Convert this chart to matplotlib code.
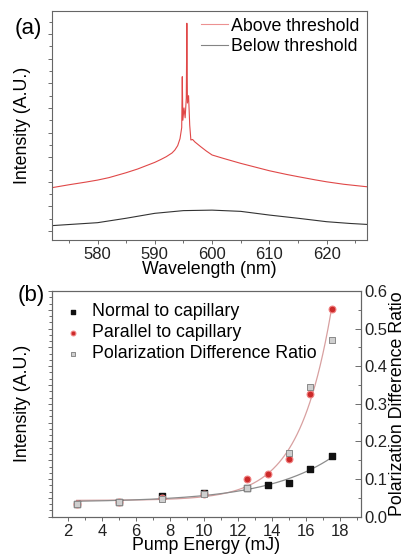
import numpy as np
import matplotlib
matplotlib.use("Agg")
from matplotlib import pyplot as plt
from matplotlib.ticker import MultipleLocator

plt.rcParams['font.family'] = ['Liberation Sans', 'DejaVu Sans']
plt.rcParams['font.size'] = 12.8

# (a) spectra (wavelength in nm, intensity in arbitrary units)
wl_above = [572, 575, 578, 580, 582, 585, 587, 589, 590, 591, 592, 593, 593.5, 594,
            594.4, 594.7, 594.8, 594.9, 595.1, 595.3, 595.5, 595.6, 595.7, 595.9,
            596.1, 596.3, 596.6, 597, 598, 599, 600, 602, 605, 608, 610, 613, 615,
            618, 620, 623, 627]
int_above = [1.76, 1.88, 1.99, 2.07, 2.17, 2.37, 2.52, 2.70, 2.79, 2.90, 3.02, 3.17, 3.29, 3.47,
             3.75, 4.20, 6.27, 4.50, 5.00, 4.60, 5.40, 8.44, 5.20, 5.50,
             4.30, 3.70, 3.72, 3.62, 3.43, 3.25, 3.09, 2.95, 2.75, 2.57, 2.45, 2.30, 2.21,
             2.08, 2.00, 1.90, 1.80]
wl_below = [572, 576, 580, 585, 590, 595, 600, 605, 610, 615, 620, 624, 627]
int_below = [0.22, 0.28, 0.34, 0.52, 0.72, 0.83, 0.85, 0.80, 0.65, 0.52, 0.38, 0.31, 0.27]

# (b) pump energy series
pump = np.array([2.5, 5, 7.5, 10, 12.5, 13.75, 15, 16.25, 17.5])
normal = np.array([0.035, 0.040, 0.054, 0.063, 0.077, 0.083, 0.090, 0.127, 0.160])
parallel = np.array([0.033, 0.038, 0.049, 0.061, 0.100, 0.113, 0.154, 0.327, 0.552])
ratio_pump = np.array([2.5, 5, 7.5, 10, 12.5, 15, 16.25, 17.5])
ratio = np.array([0.033, 0.038, 0.048, 0.060, 0.076, 0.170, 0.346, 0.470])


def exp_fit(x, y):
    # y = y0 + A*exp(x/t), t by grid search, y0 and A by least squares
    best = None
    for t in np.linspace(0.5, 15, 600):
        m = np.column_stack([np.ones_like(x), np.exp(x / t)])
        coef = np.linalg.lstsq(m, y, rcond=None)[0]
        r = np.sum((m @ coef - y) ** 2)
        if best is None or r < best[0]:
            best = (r, t, coef)
    _, t, coef = best
    return lambda xx: coef[0] + coef[1] * np.exp(xx / t)


fig = plt.figure(figsize=(4.07, 5.57), dpi=100)

# ---- panel (a)
ax1 = fig.add_axes([0.127, 0.569, 0.774, 0.412])
ax1.plot(wl_above, int_above, color='#e04848', lw=0.8, label='Above threshold')
ax1.plot(wl_below, int_below, color='#333333', lw=0.8, label='Below threshold')
ax1.set_xlim(572, 627)
ax1.set_ylim(-0.366, 8.955)
ax1.xaxis.set_major_locator(MultipleLocator(10))
ax1.xaxis.set_minor_locator(MultipleLocator(5))
ax1.yaxis.set_major_locator(MultipleLocator(1))
ax1.yaxis.set_minor_locator(MultipleLocator(0.5))
ax1.set_yticklabels([])
ax1.tick_params(which='both', direction='out', length=3, width=0.6, colors='#555555',
                labelcolor='#222222', pad=2, labelsize=12)
ax1.tick_params(which='minor', length=2)
ax1.set_xlabel('Wavelength (nm)', labelpad=-1)
ax1.set_ylabel('Intensity (A.U.)', labelpad=10)
for s in ax1.spines.values():
    s.set_color('#666666')
    s.set_linewidth(0.8)
leg1 = ax1.legend(loc='upper right', frameon=False, handlelength=1.5, handletextpad=0.2,
                  labelspacing=0.2, borderaxespad=0.2, borderpad=0.2)
for h in leg1.get_lines():
    h.set_alpha(0.6)
fig.text(0.07, 0.948, '(a)', fontsize=16, ha='center', va='center')

# ---- panel (b)
ax2 = fig.add_axes([0.128, 0.0724, 0.758, 0.4052])
ax3 = ax2.twinx()
xf = np.linspace(pump[0], pump[-1], 200)
fit_par = exp_fit(pump, parallel)
fit_nor = exp_fit(pump, normal)
ax2.plot(xf, fit_par(xf), color='#d8a0a0', lw=0.9, zorder=1)
ax2.plot(xf, fit_nor(xf), color='#8c8c8c', lw=0.9, zorder=1)
ax2.scatter(pump, normal, marker='s', s=20, color='#111111', zorder=3,
            label='Normal to capillary')
ax2.scatter(pump, parallel, marker='o', s=24, color='#cc2a2a', edgecolors='#f08080',
            linewidths=0.8, zorder=4, label='Parallel to capillary')
ax3.scatter(ratio_pump, ratio, marker='s', s=18, color='#cfcfcf', edgecolors='#8a8a8a',
            linewidths=0.7, zorder=2, label='Polarization Difference Ratio')
ax2.set_xlim(1.05, 19.2)
ax2.set_ylim(0, 0.6)
ax3.set_ylim(0, 0.6)
ax2.xaxis.set_major_locator(MultipleLocator(2))
ax2.xaxis.set_minor_locator(MultipleLocator(1))
ax2.yaxis.set_major_locator(MultipleLocator(0.05))
ax2.yaxis.set_minor_locator(MultipleLocator(1 / 60))
ax2.set_yticklabels([])
ax3.yaxis.set_major_locator(MultipleLocator(0.1))
ax3.yaxis.set_minor_locator(MultipleLocator(0.05))
ax3.set_yticks(np.arange(0, 0.61, 0.1))
ax3.set_yticklabels(['0.0', '0.1', '0.2', '0.3', '0.4', '0.5', '0.6'])
ax2.tick_params(which='both', direction='out', length=3, width=0.6, colors='#555555',
                labelcolor='#222222', pad=2, labelsize=12)
ax2.tick_params(which='minor', length=2)
ax3.tick_params(which='both', direction='in', length=4, width=0.6, colors='#555555',
                labelcolor='#222222', pad=3, labelsize=12)
ax3.tick_params(which='minor', length=2.5)
ax2.set_xlabel('Pump Energy (mJ)', labelpad=-1)
ax2.set_ylabel('Intensity (A.U.)', labelpad=10)
ax3.set_ylabel('Polarization Difference Ratio', labelpad=1)
for a in (ax2, ax3):
    for s in a.spines.values():
        s.set_color('#666666')
        s.set_linewidth(0.8)
h2, l2 = ax2.get_legend_handles_labels()
h3, l3 = ax3.get_legend_handles_labels()
ax3.legend(h2 + h3, l2 + l3, loc='upper left', frameon=False, handlelength=1.0,
           handletextpad=0.55, labelspacing=0.22, borderaxespad=0.35, borderpad=0.35,
           scatterpoints=1, markerscale=0.7)
fig.text(0.077, 0.469, '(b)', fontsize=16, ha='center', va='center')

fig.savefig('out.png', dpi=100)
